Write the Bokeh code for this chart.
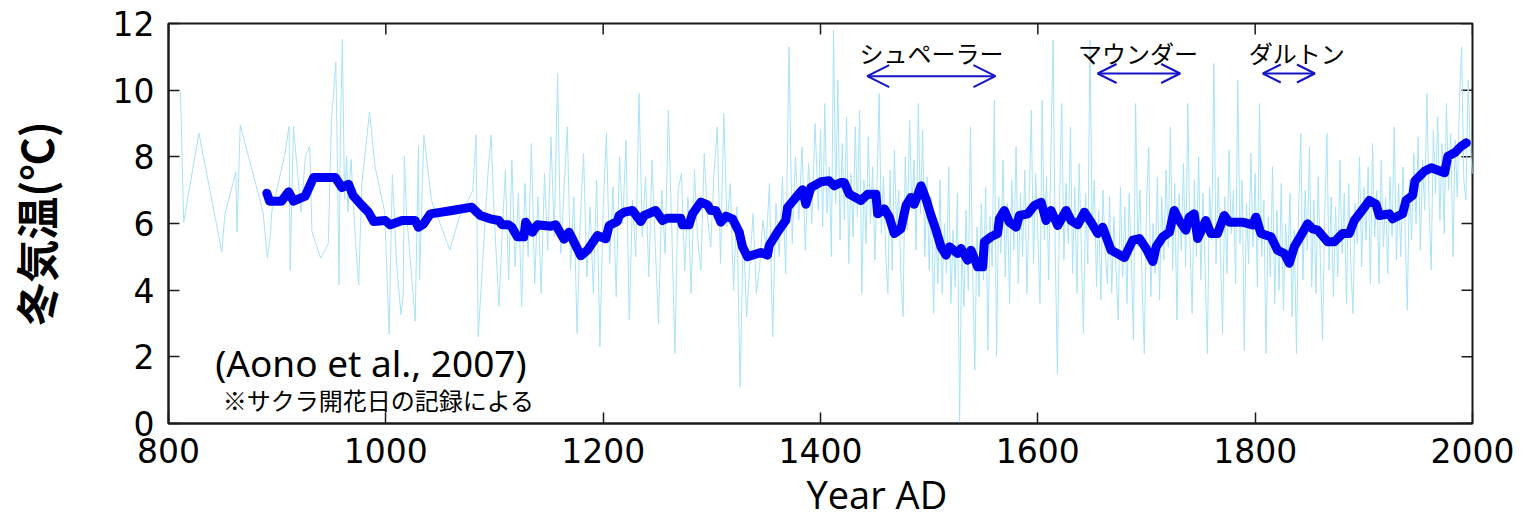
from math import pi
from bokeh.plotting import figure
from bokeh.models import (Range1d, Label, Title, Arrow, OpenHead)
from bokeh.embed import file_html
from bokeh.resources import INLINE

# ---------------- data ----------------
# annual winter temperature, sparse early part
early_years = [811, 814, 828, 849, 852, 862, 863, 866, 887, 891,
               894, 895, 907, 911, 912, 915, 922, 926, 930, 932,
               940, 947, 950, 954, 957, 958, 960, 962, 964, 965,
               968, 972, 975, 978, 985, 990, 999, 1003, 1006, 1010,
               1014, 1016, 1017, 1019, 1027, 1030, 1031, 1035, 1042, 1059,
               1067, 1080, 1083, 1085, 1094, 1097, 1099, 1104, 1107]
early_temps = [9.95, 6.04, 8.71, 5.15, 6.29, 7.55, 5.75, 8.96, 6.34, 4.96,
               5.75, 6.34, 8.07, 8.91, 4.60, 8.91, 6.34, 8.02, 8.32, 5.75,
               4.96, 5.38, 9.11, 10.84, 4.16, 8.32, 11.53, 6.73, 8.02, 6.34,
               7.92, 5.50, 4.16, 7.23, 9.35, 7.72, 6.34, 2.68, 7.47, 4.75,
               3.26, 3.86, 8.02, 6.34, 3.07, 8.32, 4.31, 8.66, 6.69, 5.20,
               6.14, 6.98, 8.66, 2.60, 7.53, 8.66, 6.73, 3.52, 5.65]

# 1110-1398
med_years = [1110, 1113, 1116, 1119, 1122, 1125, 1128, 1131, 1134, 1137,
             1140, 1143, 1146, 1149, 1152, 1155, 1158, 1161, 1164, 1167,
             1170, 1173, 1176, 1179, 1182, 1185, 1188, 1191, 1194, 1197,
             1200, 1203, 1206, 1209, 1212, 1215, 1218, 1221, 1224, 1227,
             1230, 1233, 1236, 1239, 1242, 1245, 1248, 1251, 1254, 1257,
             1260, 1263, 1266, 1269, 1272, 1275, 1278, 1281, 1284, 1287,
             1290, 1293, 1296, 1299, 1302, 1305, 1308, 1311, 1314, 1317,
             1320, 1323, 1326, 1329, 1332, 1335, 1338, 1341, 1344, 1347,
             1350, 1353, 1356, 1359, 1362, 1365, 1368, 1371, 1374, 1377,
             1380, 1383, 1386, 1389, 1392, 1395, 1398]
med_temps = [7.6, 4.3, 7.9, 4.7, 6.9, 3.5, 7.2, 5.0, 8.4, 4.2,
             6.8, 3.9, 7.5, 5.2, 8.6, 5.6, 10.5, 5.1, 7.0, 8.9,
             4.6, 6.8, 2.7, 6.2, 8.1, 4.4, 6.5, 3.9, 7.3, 2.3,
             6.4, 8.7, 4.8, 7.1, 3.8, 8.0, 6.0, 8.5, 3.1, 6.7,
             5.0, 9.9, 5.6, 7.4, 4.4, 7.9, 5.3, 3.0, 7.0, 5.1,
             9.4, 6.0, 2.1, 7.0, 7.5, 4.6, 6.8, 3.9, 7.6, 5.5,
             4.6, 8.1, 6.2, 5.3, 7.5, 8.9, 4.8, 9.3, 5.9, 7.2,
             4.0, 6.5, 1.1, 5.8, 3.2, 4.8, 6.3, 3.9, 4.7, 6.1,
             5.3, 7.2, 2.6, 6.6, 5.0, 7.4, 4.5, 11.3, 5.4, 8.0,
             6.1, 8.3, 5.2, 7.8, 6.0, 9.0, 6.4]

# 1400-2004
mod_years = [1400, 1402, 1404, 1406, 1408, 1410, 1412, 1414, 1416, 1418,
             1420, 1422, 1424, 1426, 1428, 1430, 1432, 1434, 1436, 1438,
             1440, 1442, 1444, 1446, 1448, 1450, 1452, 1454, 1456, 1458,
             1460, 1462, 1464, 1466, 1468, 1470, 1472, 1474, 1476, 1478,
             1480, 1482, 1484, 1486, 1488, 1490, 1492, 1494, 1496, 1498,
             1500, 1502, 1504, 1506, 1508, 1510, 1512, 1514, 1516, 1518,
             1520, 1522, 1524, 1526, 1528, 1530, 1532, 1534, 1536, 1538,
             1540, 1542, 1544, 1546, 1548, 1550, 1552, 1554, 1556, 1558,
             1560, 1562, 1564, 1566, 1568, 1570, 1572, 1574, 1576, 1578,
             1580, 1582, 1584, 1586, 1588, 1590, 1592, 1594, 1596, 1598,
             1600, 1602, 1604, 1606, 1608, 1610, 1612, 1614, 1616, 1618,
             1620, 1622, 1624, 1626, 1628, 1630, 1632, 1634, 1636, 1638,
             1640, 1642, 1644, 1646, 1648, 1650, 1652, 1654, 1656, 1658,
             1660, 1662, 1664, 1666, 1668, 1670, 1672, 1674, 1676, 1678,
             1680, 1682, 1684, 1686, 1688, 1690, 1692, 1694, 1696, 1698,
             1700, 1702, 1704, 1706, 1708, 1710, 1712, 1714, 1716, 1718,
             1720, 1722, 1724, 1726, 1728, 1730, 1732, 1734, 1736, 1738,
             1740, 1742, 1744, 1746, 1748, 1750, 1752, 1754, 1756, 1758,
             1760, 1762, 1764, 1766, 1768, 1770, 1772, 1774, 1776, 1778,
             1780, 1782, 1784, 1786, 1788, 1790, 1792, 1794, 1796, 1798,
             1800, 1802, 1804, 1806, 1808, 1810, 1812, 1814, 1816, 1818,
             1820, 1822, 1824, 1826, 1828, 1830, 1832, 1834, 1836, 1838,
             1840, 1842, 1844, 1846, 1848, 1850, 1852, 1854, 1856, 1858,
             1860, 1862, 1864, 1866, 1868, 1870, 1872, 1874, 1876, 1878,
             1880, 1882, 1884, 1886, 1888, 1890, 1892, 1894, 1896, 1898,
             1900, 1902, 1904, 1906, 1908, 1910, 1912, 1914, 1916, 1918,
             1920, 1922, 1924, 1926, 1928, 1930, 1932, 1934, 1936, 1938,
             1940, 1942, 1944, 1946, 1948, 1950, 1952, 1954, 1956, 1958,
             1960, 1962, 1964, 1966, 1968, 1970, 1972, 1974, 1976, 1978,
             1980, 1982, 1984, 1986, 1988, 1990, 1992, 1994, 1996, 1998,
             2000, 2002, 2004]
mod_temps = [8.8, 5.9, 9.6, 6.3, 7.7, 5.0, 11.8, 6.6, 10.3, 5.5,
             8.4, 6.1, 9.2, 4.8, 7.5, 5.6, 8.9, 6.2, 9.4, 3.9,
             7.3, 5.4, 8.6, 6.0, 7.7, 4.9, 7.2, 9.9, 5.7, 7.4,
             5.1, 3.9, 7.6, 4.6, 8.2, 5.9, 7.0, 4.4, 3.2, 8.0,
             5.8, 9.1, 6.4, 7.9, 5.2, 9.6, 6.3, 8.8, 5.0, 7.4,
             4.6, 6.8, 3.3, 6.1, 4.2, 7.3, 3.9, 6.0, 4.5, 7.7,
             3.6, 5.8, 4.1, 6.9, 0.0, 5.4, 3.5, 6.4, 4.0, 8.9,
             4.6, 1.6, 5.9, 3.8, 6.6, 4.3, 7.1, 2.2, 6.2, 4.7,
             9.7, 2.0, 6.8, 5.1, 7.9, 4.4, 6.6, 3.6, 7.3, 5.2,
             8.3, 4.2, 6.9, 5.0, 7.6, 3.9, 6.6, 9.4, 4.8, 7.5,
             5.6, 3.6, 9.7, 5.5, 7.4, 4.3, 8.1, 11.5, 5.2, 1.5,
             6.7, 9.6, 4.9, 7.2, 5.4, 8.9, 4.5, 7.1, 3.9, 7.8,
             5.3, 2.7, 6.9, 4.8, 11.5, 5.9, 7.3, 4.1, 6.4, 3.7,
             7.0, 5.1, 4.2, 6.8, 3.9, 6.2, 4.6, 3.1, 7.1, 4.4,
             6.5, 3.6, 6.9, 5.0, 2.5, 9.6, 5.3, 7.0, 4.1, 2.1,
             6.6, 8.3, 3.8, 6.0, 4.5, 7.4, 3.7, 6.8, 4.9, 7.6,
             5.3, 8.9, 4.6, 7.2, 3.1, 6.9, 5.2, 7.8, 4.7, 9.6,
             5.4, 3.3, 7.3, 5.0, 8.0, 4.3, 6.9, 4.6, 2.1, 7.1,
             5.5, 10.8, 4.8, 7.4, 5.2, 2.7, 6.8, 4.5, 8.2, 5.7,
             7.0, 4.2, 10.3, 5.4, 7.3, 2.2, 6.6, 4.8, 8.1, 5.3,
             7.5, 4.1, 9.6, 5.0, 6.7, 2.1, 6.2, 4.4, 7.7, 3.6,
             6.4, 4.0, 7.2, 3.4, 6.0, 4.7, 6.9, 3.2, 5.8, 2.1,
             6.4, 8.7, 4.3, 7.0, 5.2, 8.3, 4.1, 6.7, 3.9, 7.4,
             4.9, 2.5, 6.3, 8.7, 4.6, 6.8, 3.8, 6.5, 4.4, 7.9,
             5.1, 6.9, 3.6, 7.2, 4.8, 3.3, 6.6, 5.4, 8.0, 4.7,
             7.1, 5.5, 7.7, 4.2, 8.4, 5.6, 7.0, 4.2, 7.9, 5.3,
             6.8, 4.5, 7.4, 5.6, 8.9, 4.9, 7.2, 5.0, 7.7, 5.8,
             3.4, 7.3, 5.5, 8.1, 6.0, 8.6, 5.2, 7.9, 6.4, 9.9,
             6.6, 4.6, 8.8, 6.9, 9.2, 6.1, 8.4, 5.7, 9.6, 7.0,
             8.7, 5.0, 8.5, 6.8, 9.7, 11.3, 7.3, 6.7, 10.3, 8.2,
             7.5, 10.0, 8.9]

# smoothed (running mean) series
mean_years = [890.5, 893, 904, 910.5, 915, 925.8, 933.5, 953.5, 959.6, 965.7,
              970, 978, 984, 988.8, 999.5, 1004, 1015, 1027, 1030, 1034.8,
              1041, 1061, 1079, 1087, 1096, 1104, 1107, 1113, 1116, 1121,
              1127, 1128.7, 1134.9, 1139.5, 1151.7, 1156.3, 1164, 1168.6, 1171.7, 1179.4,
              1185.5, 1194.7, 1202.4, 1205.5, 1213, 1214.7, 1219.3, 1227, 1234.6, 1237.7,
              1248.4, 1254.6, 1259.2, 1271.4, 1273, 1279, 1282.2, 1289.9, 1296, 1299,
              1303.7, 1308.3, 1312.9, 1319, 1325.2, 1328.2, 1332.8, 1345.1, 1351.2, 1352.8,
              1360.4, 1368, 1369.7, 1377.3, 1383.5, 1386.5, 1391.2, 1400.4, 1408, 1412.6,
              1418.8, 1421.9, 1426.5, 1437.2, 1443.4, 1451, 1452.6, 1458.7, 1463.3, 1467.9,
              1474, 1478.7, 1483.3, 1486.3, 1492.5, 1497.1, 1501.7, 1506.3, 1510.9, 1515.5,
              1518.6, 1526.2, 1529.3, 1535.4, 1538.5, 1544.6, 1549.3, 1550.8, 1556.9, 1563,
              1564.6, 1569.2, 1573.8, 1580, 1583, 1590.7, 1596.8, 1603, 1607.6, 1612.2,
              1618.3, 1626, 1630.6, 1636.7, 1642.9, 1649, 1655.1, 1659.7, 1667.4, 1679.7,
              1687.4, 1693.5, 1699.6, 1705.8, 1708.9, 1715, 1721.1, 1725.5, 1730.1, 1736.2,
              1739.3, 1743.9, 1747, 1754.6, 1759.2, 1765.4, 1771.5, 1776.1, 1788.4, 1797.6,
              1800.7, 1805.3, 1814.5, 1820.6, 1826.8, 1831.4, 1836, 1842.1, 1848.3, 1852.9,
              1857.5, 1866.7, 1872.8, 1880.5, 1886.6, 1891.2, 1900.4, 1905, 1911.2, 1914.2,
              1923.5, 1926.5, 1935.7, 1938.8, 1945, 1947, 1955.9, 1962, 1974.3, 1977.4,
              1983.5, 1989.7, 1994.3]
mean_temps = [6.91, 6.67, 6.67, 6.95, 6.67, 6.82, 7.38, 7.38, 7.08, 7.18,
              6.83, 6.54, 6.34, 6.06, 6.09, 5.96, 6.09, 6.09, 5.89, 5.99,
              6.29, 6.39, 6.49, 6.24, 6.14, 6.09, 5.96, 5.96, 5.89, 5.60,
              5.60, 6.04, 5.74, 5.96, 5.92, 5.96, 5.53, 5.74, 5.54, 5.03,
              5.20, 5.64, 5.54, 5.94, 6.06, 6.24, 6.34, 6.39, 6.06, 6.24,
              6.39, 6.09, 6.16, 6.16, 5.96, 5.96, 6.29, 6.64, 6.56, 6.39,
              6.39, 6.04, 6.22, 6.14, 5.74, 5.30, 5.00, 5.13, 5.05, 5.34,
              5.74, 6.09, 6.48, 6.78, 7.01, 6.58, 7.08, 7.25, 7.28, 7.13,
              7.23, 7.23, 6.88, 6.69, 6.88, 6.88, 6.29, 6.44, 6.19, 5.70,
              5.84, 6.54, 6.78, 6.58, 7.13, 6.73, 6.24, 5.80, 5.30, 5.05,
              5.30, 5.10, 5.25, 4.90, 5.20, 4.70, 4.70, 5.45, 5.60, 5.70,
              6.14, 6.39, 6.04, 5.89, 6.24, 6.29, 6.54, 6.64, 6.09, 6.39,
              5.94, 6.39, 6.09, 5.96, 6.34, 6.04, 5.70, 5.89, 5.20, 4.98,
              5.50, 5.55, 5.25, 4.86, 5.30, 5.60, 5.74, 6.39, 6.09, 5.80,
              6.19, 6.29, 5.55, 6.09, 5.70, 5.70, 6.24, 6.04, 6.04, 5.96,
              6.19, 5.70, 5.60, 5.20, 5.10, 4.81, 5.30, 5.64, 5.99, 5.84,
              5.80, 5.45, 5.45, 5.70, 5.70, 6.09, 6.48, 6.69, 6.58, 6.24,
              6.29, 6.14, 6.29, 6.69, 6.85, 7.28, 7.57, 7.67, 7.52, 8.02,
              8.12, 8.32, 8.42]

# solar minima periods
period_names = ["シュペーラー", "マウンダー", "ダルトン"]
period_start = [1443, 1655, 1807]
period_end = [1561, 1731, 1855]
period_label_x = [1436, 1637, 1794]
period_arrow_y = [10.42, 10.5, 10.5]
period_head = [22, 19, 18]

x_ticks = [800, 1000, 1200, 1400, 1600, 1800, 2000]
y_ticks = [0, 2, 4, 6, 8, 10, 12]

for a, b in [(early_years, early_temps), (med_years, med_temps),
             (mod_years, mod_temps), (mean_years, mean_temps)]:
    assert len(a) == len(b), (len(a), len(b))

annual_years = early_years + med_years + mod_years
annual_temps = early_temps + med_temps + mod_temps

# ---------------- figure ----------------
p = figure(width=1532, height=520, x_range=Range1d(800, 2000),
           y_range=Range1d(0, 12), output_backend="svg",
           toolbar_location=None, min_border_left=168,
           min_border_right=60, min_border_top=23, min_border_bottom=93)
p.background_fill_color = "white"
p.border_fill_color = "white"
p.xgrid.visible = False
p.ygrid.visible = False
p.outline_line_color = "#1a1a1a"
p.outline_line_width = 2

for ax in (p.xaxis[0], p.yaxis[0]):
    ax.major_tick_in = 11
    ax.major_tick_out = 0
    ax.minor_tick_in = 0
    ax.minor_tick_out = 0
    ax.major_tick_line_color = "#1a1a1a"
    ax.major_tick_line_width = 1.5
    ax.axis_line_color = "#1a1a1a"
    ax.axis_line_width = 2
    ax.major_label_text_font = "DejaVu Sans"
    ax.major_label_text_font_size = "33px"
    ax.major_label_text_color = "black"

p.xaxis.ticker = x_ticks
p.yaxis.ticker = y_ticks
p.xaxis.major_label_standoff = 14
p.yaxis.major_label_standoff = 14

# y-axis title
p.yaxis.axis_label = "冬気温(℃)"
p.yaxis.axis_label_text_font = "Noto Sans CJK JP"
p.yaxis.axis_label_text_font_style = "bold"
p.yaxis.axis_label_text_font_size = "43px"
p.yaxis.axis_label_text_color = "black"
p.yaxis.axis_label_standoff = 44

# x-axis title (offset to the right as in the reference)
p.add_layout(Title(text="Year AD", align="left", offset=638,
                   vertical_align="bottom",
                   text_font="Open Sans", text_font_size="38px",
                   text_font_style="normal", text_color="black",
                   text_line_height=1.0, standoff=1), "below")

# inward mirror ticks on top and right edges
p.ray(x=x_ticks, y=[12] * len(x_ticks), length=11, length_units="screen",
      angle=-pi / 2, line_color="#1a1a1a", line_width=1.5)
p.ray(x=[2000] * len(y_ticks), y=y_ticks, length=11, length_units="screen",
      angle=pi, line_color="#1a1a1a", line_width=1.5)

# annual data
p.line(annual_years, annual_temps, line_color="#A8E2F8", line_width=1)
# running mean
p.line(mean_years, mean_temps, line_color="#0000F5", line_width=9,
       line_join="round", line_cap="round")

# period arrows and names
for name, x0, x1, lx, ay, hs in zip(period_names, period_start, period_end,
                                     period_label_x, period_arrow_y, period_head):
    p.add_layout(Arrow(x_start=x0, y_start=ay, x_end=x1, y_end=ay,
                       line_color="#1414C8", line_width=2,
                       start=OpenHead(size=hs, line_color="#1414C8", line_width=2),
                       end=OpenHead(size=hs, line_color="#1414C8", line_width=2)))
    p.add_layout(Label(x=lx, y=11.14, text=name, text_align="left",
                       text_baseline="middle", text_font="Noto Sans CJK JP",
                       text_font_size="24px", text_color="black"))

# source text
p.add_layout(Label(x=843, y=1.84, text="(Aono et al., 2007)",
                   text_align="left", text_baseline="middle",
                   text_font="Noto Sans", text_font_size="37px",
                   text_color="black"))
p.add_layout(Label(x=850, y=0.71, text="※サクラ開花日の記録による",
                   text_align="left", text_baseline="middle",
                   text_font="Noto Sans CJK JP", text_font_size="24px",
                   text_color="black"))

open("out.html", "w").write(file_html(p, INLINE))
